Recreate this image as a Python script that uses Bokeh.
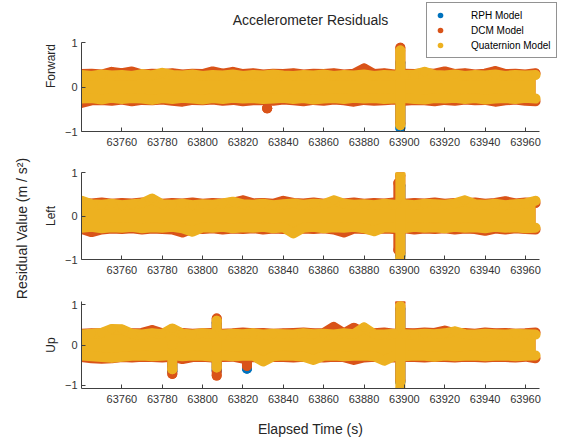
import math
from bokeh.plotting import figure
from bokeh.layouts import row, column
from bokeh.models import FixedTicker, Legend, LegendItem, Range1d, Label
from bokeh.core.properties import value
from bokeh.embed import file_html
from bokeh.resources import INLINE

FONT = "Liberation Sans"
TXT = "#262626"
C_RPH, C_DCM, C_QUAT = "#0072BD", "#D95319", "#EDB120"

TITLE = "Accelerometer Residuals"
YLABEL = "Residual Value (m / s\u00b2)"
XLABEL = "Elapsed Time (s)"
MODELS = ["RPH Model", "DCM Model", "Quaternion Model"]
XTICKS = [63760, 63780, 63800, 63820, 63840, 63860, 63880, 63900, 63920, 63940, 63960]
YTICKS = [-1, 0, 1]
XMIN, XMAX = 63740, 63967

# sample times of the band envelopes (5 s) and of the hidden RPH envelope (10 s)
T = list(range(63740, 63970, 5))
RT = list(range(63740, 63970, 10))

# ---------------- Forward ----------------
F_Q_HI = [.27, .25, .28, .26, .27, .25, .29, .26, .32, .27, .26, .28, .25, .27, .26, .28, .25, .27, .26, .28, .26, .25, .27,
          .26, .28, .25, .27, .26, .28, .25, .27, .26, .27, .28, .34, .27, .26, .28, .25, .27, .26, .28, .25, .27, .26, .27]
F_Q_LO = [-.26, -.25, -.28, -.24, -.27, -.25, -.26, -.29, -.25, -.27, -.24, -.26, -.28, -.25, -.27, -.24, -.26, -.25, -.27, -.26, -.24, -.27, -.25,
          -.28, -.26, -.25, -.27, -.24, -.26, -.25, -.27, -.26, -.25, -.27, -.28, -.25, -.26, -.24, -.27, -.25, -.28, -.26, -.25, -.27, -.24, -.26]
F_D_HI = [.29, .30, .28, .34, .31, .35, .28, .30, .29, .31, .28, .30, .29, .35, .30, .34, .29, .31, .28, .30, .29, .31, .28,
          .30, .29, .31, .28, .30, .42, .29, .31, .28, .30, .29, .31, .30, .35, .29, .31, .28, .30, .36, .29, .30, .28, .31]
F_D_LO = [-.36, -.30, -.29, -.31, -.28, -.32, -.29, -.30, -.28, -.31, -.33, -.29, -.30, -.28, -.31, -.29, -.32, -.30, -.29, -.31, -.28, -.30, -.32,
          -.29, -.31, -.28, -.30, -.33, -.29, -.31, -.30, -.28, -.31, -.29, -.30, -.32, -.29, -.31, -.28, -.30, -.29, -.33, -.30, -.28, -.31, -.32]
F_R_HI = [.22, .24, .21, .23, .22, .25, .21, .23, .22, .24, .21, .23, .22, .24, .21, .23, .22, .24, .21, .23, .22, .24, .22]
F_R_LO = [-.22, -.21, -.23, -.22, -.24, -.21, -.23, -.22, -.21, -.24, -.22, -.23, -.21, -.22, -.24, -.23, -.21, -.22, -.23, -.21, -.24, -.22, -.23]
F_Q_SPK_T, F_Q_SPK_LO, F_Q_SPK_HI = [63898], [-0.86], [0.82]
F_D_SPK_T, F_D_SPK_LO, F_D_SPK_HI = [63898, 63832], [-0.82, -0.48], [0.88, -0.48]
F_R_SPK_T, F_R_SPK_LO, F_R_SPK_HI = [63898], [-0.92], [0.55]

# ---------------- Left ----------------
L_Q_HI = [.35, .27, .26, .28, .25, .27, .29, .40, .27, .26, .28, .25, .27, .26, .29, .33, .27, .26, .28, .25, .27, .29, .26,
          .28, .27, .36, .28, .26, .27, .25, .28, .26, .27, .25, .28, .27, .26, .29, .36, .27, .26, .28, .25, .27, .29, .35]
L_Q_LO = [-.27, -.25, -.28, -.26, -.27, -.25, -.28, -.26, -.27, -.25, -.28, -.36, -.26, -.27, -.25, -.28, -.26, -.27, -.25, -.28, -.26, -.40, -.27,
          -.25, -.28, -.26, -.27, -.25, -.28, -.35, -.26, -.27, -.28, -.25, -.27, -.26, -.28, -.25, -.27, -.26, -.28, -.25, -.27, -.26, -.28, -.27]
L_D_HI = [.30, .29, .31, .28, .30, .29, .31, .30, .28, .30, .29, .31, .28, .30, .29, .31, .36, .29, .30, .28, .35, .30, .29,
          .31, .28, .30, .29, .31, .28, .30, .29, .31, .28, .30, .29, .31, .28, .30, .29, .31, .28, .30, .34, .29, .31, .30]
L_D_LO = [-.30, -.37, -.31, -.29, -.30, -.28, -.31, -.29, -.30, -.31, -.38, -.29, -.30, -.28, -.31, -.29, -.30, -.28, -.31, -.29, -.30, -.31, -.29,
          -.30, -.28, -.31, -.38, -.29, -.30, -.31, -.29, -.30, -.28, -.31, -.29, -.30, -.28, -.31, -.29, -.30, -.34, -.29, -.31, -.28, -.30, -.31]
L_R_HI = [.23, .21, .24, .22, .23, .21, .22, .24, .21, .23, .22, .21, .24, .22, .23, .21, .22, .24, .23, .21, .22, .23, .22]
L_R_LO = [-.21, -.23, -.22, -.24, -.21, -.22, -.23, -.21, -.24, -.22, -.23, -.21, -.22, -.24, -.21, -.23, -.22, -.21, -.24, -.22, -.23, -.21, -.22]
L_Q_SPK_T, L_Q_SPK_LO, L_Q_SPK_HI = [63898], [-0.97], [0.97]
L_D_SPK_T, L_D_SPK_LO, L_D_SPK_HI = [63898, 63897], [-0.85, -0.78], [0.93, 0.76]
L_R_SPK_T, L_R_SPK_LO, L_R_SPK_HI = [63898], [-0.92], [0.70]

# ---------------- Up ----------------
U_Q_HI = [.26, .28, .30, .40, .39, .28, .26, .29, .27, .41, .28, .26, .29, .27, .26, .28, .27, .29, .26, .28, .27, .26, .29,
          .27, .28, .26, .29, .27, .44, .27, .26, .28, .27, .26, .28, .27, .29, .34, .27, .26, .28, .27, .26, .28, .27, .26]
U_Q_LO = [-.26, -.28, -.30, -.32, -.29, -.27, -.26, -.28, -.27, -.25, -.28, -.26, -.27, -.29, -.26, -.28, -.27, -.26, -.41, -.28, -.26, -.27, -.29,
          -.37, -.27, -.26, -.28, -.27, -.26, -.28, -.39, -.27, -.28, -.26, -.27, -.29, -.26, -.28, -.27, -.26, -.28, -.27, -.26, -.28, -.27, -.26]
U_D_HI = [.28, .29, .30, .33, .31, .29, .30, .37, .29, .31, .30, .28, .29, .30, .28, .29, .31, .29, .30, .28, .29, .30, .31,
          .29, .30, .45, .29, .43, .30, .29, .31, .28, .30, .29, .31, .30, .36, .29, .30, .28, .31, .29, .30, .28, .29, .31]
U_D_LO = [-.30, -.33, -.34, -.33, -.30, -.31, -.29, -.30, -.31, -.29, -.35, -.30, -.29, -.31, -.30, -.29, -.34, -.30, -.31, -.29, -.30, -.31, -.29,
          -.30, -.31, -.29, -.30, -.37, -.31, -.29, -.30, -.31, -.29, -.30, -.31, -.29, -.30, -.31, -.29, -.30, -.31, -.29, -.30, -.31, -.29, -.33]
U_R_HI = [.22, .23, .21, .24, .22, .21, .23, .22, .24, .21, .22, .23, .21, .24, .22, .23, .21, .22, .24, .23, .21, .22, .23]
U_R_LO = [-.23, -.22, -.24, -.21, -.22, -.23, -.21, -.24, -.22, -.21, -.23, -.22, -.24, -.21, -.23, -.22, -.21, -.24, -.22, -.23, -.21, -.22, -.23]
U_Q_SPK_T, U_Q_SPK_LO, U_Q_SPK_HI = [63898, 63807, 63785], [-1.10, -0.56, -0.60], [0.97, 0.60, 0.0]
U_D_SPK_T, U_D_SPK_LO, U_D_SPK_HI = [63898, 63807, 63785, 63822], [-0.88, -0.76, -0.72, -0.52], [1.06, 0.66, 0.0, 0.0]
U_R_SPK_T, U_R_SPK_LO, U_R_SPK_HI = [63898, 63807, 63785, 63822], [-0.92, -0.64, -0.65, -0.59], [0.90, 0.55, 0.0, 0.0]

DOT = 10

# layout (pixels)
COL_W = 522
LEFT_B = 39
AX_W = 460                      # drawn width of the time axis
FRAME_W = COL_W - LEFT_B        # frame runs to the right edge so the legend is not clipped
X_RIGHT = XMIN + (XMAX - XMIN) * FRAME_W / AX_W
X_MID = (XMIN + XMAX) / 2


def draw_series(p, t, hi, lo, st, slo, shi, color):
    p.varea(x=t, y1=lo, y2=hi, fill_color=color)
    for yy in (hi, lo):
        p.line(x=t, y=yy, line_color=color, line_width=DOT, line_join="round", line_cap="round")
    p.segment(x0=st, y0=slo, x1=st, y1=shi, line_color=color, line_width=DOT, line_cap="round")
    p.scatter(x=st, y=slo, size=DOT, marker="circle", fill_color=color, line_color=None)
    p.scatter(x=st, y=shi, size=DOT, marker="circle", fill_color=color, line_color=None)
    r = p.scatter(x=t, y=hi, size=DOT - 1, marker="circle", fill_color=color, line_color=None)
    return r


def style_axes(p, ylab, ybounds):
    p.outline_line_color = None
    p.grid.visible = False
    for ax in (p.xaxis[0], p.yaxis[0]):
        ax.axis_line_color = "#404040"
        ax.major_tick_line_color = "#404040"
        ax.major_tick_in = 4
        ax.major_tick_out = 0
        ax.minor_tick_line_color = None
        ax.major_label_text_font = FONT
        ax.major_label_text_color = "#333333"
    p.xaxis[0].ticker = FixedTicker(ticks=XTICKS)
    p.xaxis[0].bounds = (XMIN, XMAX)
    p.xaxis[0].major_label_text_font_size = "11px"
    p.xaxis[0].major_label_standoff = 6
    p.yaxis[0].ticker = FixedTicker(ticks=YTICKS)
    p.yaxis[0].bounds = ybounds
    p.yaxis[0].major_label_text_font_size = "11px"
    p.yaxis[0].major_label_standoff = 4
    p.yaxis[0].axis_label = ylab
    p.yaxis[0].axis_label_text_font = FONT
    p.yaxis[0].axis_label_text_font_size = "12px"
    p.yaxis[0].axis_label_text_font_style = "normal"
    p.yaxis[0].axis_label_text_color = TXT
    p.yaxis[0].axis_label_standoff = 4


def panel(h, top, bottom, ylab, ylim, series):
    p = figure(width=COL_W, height=h, x_range=Range1d(XMIN, X_RIGHT), y_range=Range1d(*ylim),
               output_backend="svg", toolbar_location=None,
               min_border_left=LEFT_B, min_border_right=0,
               min_border_top=top, min_border_bottom=bottom)
    for s in series:
        draw_series(p, *s)
    style_axes(p, ylab, ylim)
    return p


# ---- top panel: frame extended upward so that title and legend are not clipped ----
F1_H, F1_TOP_AX, F1_BOT = 150, 42, 19
frame_h = F1_H - F1_BOT
ppu = (frame_h - F1_TOP_AX) / 2.0
y_top = 1 + F1_TOP_AX / ppu
f1 = figure(width=COL_W, height=F1_H, x_range=Range1d(XMIN, X_RIGHT), y_range=Range1d(-1.0, y_top),
            output_backend="svg", toolbar_location=None,
            min_border_left=LEFT_B, min_border_right=0, min_border_top=0, min_border_bottom=F1_BOT)
rends = []
for s in [(RT, F_R_HI, F_R_LO, F_R_SPK_T, F_R_SPK_LO, F_R_SPK_HI, C_RPH),
          (T, F_D_HI, F_D_LO, F_D_SPK_T, F_D_SPK_LO, F_D_SPK_HI, C_DCM),
          (T, F_Q_HI, F_Q_LO, F_Q_SPK_T, F_Q_SPK_LO, F_Q_SPK_HI, C_QUAT)]:
    rends.append(draw_series(f1, *s))
style_axes(f1, "Forward", (-1.0, 1.0))
f1.add_layout(Label(x=X_MID, y=1 + 23 / ppu, text=TITLE, text_align="center",
                    text_baseline="middle", text_font=FONT, text_font_size="14px", text_color=TXT))
lg = Legend(items=[LegendItem(label=m, renderers=[r]) for m, r in zip(MODELS, rends)],
            location=(345, 73))
lg.border_line_color = "#262626"
lg.border_line_width = 1
lg.background_fill_color = "white"
lg.background_fill_alpha = 1
lg.label_text_font = FONT
lg.label_text_font_size = "10px"
lg.label_text_color = "#000000"
lg.glyph_width = 16
lg.glyph_height = 14
lg.label_height = 14
lg.spacing = 1
lg.padding = 5
lg.margin = 0
lg.label_standoff = 23
f1.add_layout(lg)

f2 = panel(130, 22, 21, "Left", (-1.0, 1.0), [
    (RT, L_R_HI, L_R_LO, L_R_SPK_T, L_R_SPK_LO, L_R_SPK_HI, C_RPH),
    (T, L_D_HI, L_D_LO, L_D_SPK_T, L_D_SPK_LO, L_D_SPK_HI, C_DCM),
    (T, L_Q_HI, L_Q_LO, L_Q_SPK_T, L_Q_SPK_LO, L_Q_SPK_HI, C_QUAT),
])
f3 = panel(131, 21, 23, "Up", (-1.08, 1.08), [
    (RT, U_R_HI, U_R_LO, U_R_SPK_T, U_R_SPK_LO, U_R_SPK_HI, C_RPH),
    (T, U_D_HI, U_D_LO, U_D_SPK_T, U_D_SPK_LO, U_D_SPK_HI, C_DCM),
    (T, U_Q_HI, U_Q_LO, U_Q_SPK_T, U_Q_SPK_LO, U_Q_SPK_HI, C_QUAT),
])

# x-axis title, centred under the drawn time axis
XL_H = 27
fx = figure(width=COL_W, height=XL_H, x_range=Range1d(XMIN, X_RIGHT), y_range=Range1d(0, XL_H),
            output_backend="svg", toolbar_location=None,
            min_border_left=LEFT_B, min_border_right=0, min_border_top=0, min_border_bottom=0)
fx.outline_line_color = None
fx.axis.visible = False
fx.grid.visible = False
fx.text(x=[X_MID], y=[XL_H - 17], text=[XLABEL], text_align="center", text_baseline="middle",
        text_font=value(FONT), text_font_size="14px", text_color=TXT)

lab = figure(width=40, height=438, x_range=Range1d(0, 40), y_range=Range1d(0, 438),
             output_backend="svg", toolbar_location=None,
             min_border_left=0, min_border_right=0, min_border_top=0, min_border_bottom=0)
lab.outline_line_color = None
lab.axis.visible = False
lab.grid.visible = False
lab.text(x=[21], y=[438 - 228], text=[YLABEL], angle=math.pi / 2,
         text_align="center", text_baseline="middle",
         text_font=value(FONT), text_font_size="14px", text_color=TXT)

layout = row(lab, column(f1, f2, f3, fx, spacing=0), spacing=0)
open("out.html", "w").write(file_html(layout, INLINE))
